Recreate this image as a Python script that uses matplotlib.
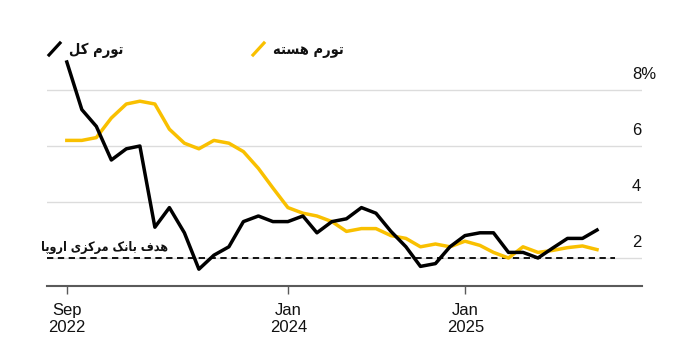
"""
Headline vs core inflation, monthly, with the ECB 2% target.
"""

import pandas as pd
import matplotlib.pyplot as plt
from matplotlib.transforms import blended_transform_factory

# Data, month-end from Sep 2022
dates = pd.date_range('2022-09-30', periods=37, freq='ME')
headline = [9.0, 7.3, 6.7, 5.5, 5.9, 6.0, 3.1, 3.8, 2.9, 1.6, 2.1, 2.4,
            3.3, 3.5, 3.3, 3.3, 3.5, 2.9, 3.3, 3.4, 3.8, 3.6, 2.95, 2.4,
            1.7, 1.8, 2.4, 2.8, 2.9, 2.9, 2.2, 2.2, 2.0, 2.35, 2.7, 2.7, 3.0]
core = [6.2, 6.2, 6.3, 7.0, 7.5, 7.6, 7.5, 6.6, 6.1, 5.9, 6.2, 6.1,
        5.8, 5.2, 4.5, 3.8, 3.6, 3.5, 3.3, 2.95, 3.05, 3.05, 2.8, 2.7,
        2.4, 2.5, 2.4, 2.6, 2.45, 2.2, 2.0, 2.4, 2.2, 2.27, 2.37, 2.43, 2.3]
target = 2.0

y_ticks = [2, 4, 6, 8]
y_labels = ['2', '4', '6', '8%']
x_ticks = [pd.Timestamp('2022-09-30'), pd.Timestamp('2024-01-01'), pd.Timestamp('2025-01-01')]
x_labels = ['Sep\n2022', 'Jan\n2024', 'Jan\n2025']

label_headline = 'تورم کل'
label_core = 'تورم هسته'
label_target = 'هدف بانک مرکزی اروپا'

BLACK = '#000000'
YELLOW = '#F9C000'
GRID = '#DCDCDC'
AXIS = '#5A5A5A'

# Arabic-script shaping: (isolated, final, initial, medial); right-joiners have no initial/medial
FORMS = {
    'ا': ('\uFE8D', '\uFE8E', None, None),
    'ب': ('\uFE8F', '\uFE90', '\uFE91', '\uFE92'),
    'پ': ('\uFB56', '\uFB57', '\uFB58', '\uFB59'),
    'ت': ('\uFE95', '\uFE96', '\uFE97', '\uFE98'),
    'د': ('\uFEA9', '\uFEAA', None, None),
    'ر': ('\uFEAD', '\uFEAE', None, None),
    'ز': ('\uFEAF', '\uFEB0', None, None),
    'س': ('\uFEB1', '\uFEB2', '\uFEB3', '\uFEB4'),
    'ف': ('\uFED1', '\uFED2', '\uFED3', '\uFED4'),
    'ک': ('\uFB8E', '\uFB8F', '\uFB90', '\uFB91'),
    'ل': ('\uFEDD', '\uFEDE', '\uFEDF', '\uFEE0'),
    'م': ('\uFEE1', '\uFEE2', '\uFEE3', '\uFEE4'),
    'ن': ('\uFEE5', '\uFEE6', '\uFEE7', '\uFEE8'),
    'ه': ('\uFEE9', '\uFEEA', '\uFEEB', '\uFEEC'),
    'و': ('\uFEED', '\uFEEE', None, None),
    'ی': ('\uFBFC', '\uFBFD', '\uFBFE', '\uFBFF'),
}


def fa(text):
    """Shape Persian text into presentation forms and reverse for LTR rendering."""
    out = []
    for i, c in enumerate(text):
        if c not in FORMS:
            out.append(c)
            continue
        prev = text[i - 1] if i > 0 else None
        nxt = text[i + 1] if i + 1 < len(text) else None
        join_prev = prev in FORMS and FORMS[prev][2] is not None
        join_next = nxt in FORMS and FORMS[c][2] is not None
        iso, fin, ini, med = FORMS[c]
        if join_prev and join_next:
            out.append(med)
        elif join_prev:
            out.append(fin)
        elif join_next:
            out.append(ini)
        else:
            out.append(iso)
    return ''.join(reversed(out))


plt.rcParams['font.family'] = ['Liberation Sans', 'DejaVu Sans']
FA_FONT = dict(family='DejaVu Sans', fontweight='bold', fontstretch='condensed',
               color='#111111')

fig = plt.figure(figsize=(6.99, 3.49), dpi=100)
ax = fig.add_axes([47 / 699, 1 - 286 / 349, 595 / 699, (286 - 40) / 349])

ax.set_ylim(1, 1 + 246 / 28)
ax.set_xlim(dates[0] - pd.Timedelta(days=41), dates[-1] + pd.Timedelta(days=93))

# gridlines
for v in y_ticks:
    ax.axhline(v, color=GRID, lw=1.0, zorder=1)
ax.axhline(target, xmin=0, xmax=(615 - 47) / 595, color=BLACK, lw=1.3,
           ls=(0, (3.5, 2.5)), zorder=2)

ax.plot(dates, core, color=YELLOW, lw=2.5, zorder=3)
ax.plot(dates, headline, color=BLACK, lw=2.5, zorder=4, clip_on=False)

# y labels sit above their gridlines, at the right
tr = blended_transform_factory(ax.transAxes, ax.transData)
for v, lab in zip(y_ticks, y_labels):
    ax.text((632 - 47) / 595, v + 15.5 / 28, lab, transform=tr, ha='left',
            va='center', fontsize=12, color='#111111')

ax.text(dates[7] - pd.Timedelta(days=2), target + 10.5 / 28, fa(label_target),
        ha='right', va='center', fontsize=9, **FA_FONT)

# axes styling
for side in ['top', 'right', 'left']:
    ax.spines[side].set_visible(False)
ax.spines['bottom'].set_color(AXIS)
ax.spines['bottom'].set_linewidth(1.5)
ax.set_yticks([])
ax.set_xticks(x_ticks)
ax.set_xticklabels(x_labels, fontsize=12, color='#111111', linespacing=1.2)
ax.tick_params(axis='x', length=6, width=1, color=AXIS, pad=6)

# legend: slash marker + label
for x0, col, lab in [(49, BLACK, label_headline), (253, YELLOW, label_core)]:
    fig.add_artist(plt.Line2D([x0 / 699, (x0 + 11) / 699],
                              [1 - 55 / 349, 1 - 43 / 349],
                              color=col, lw=2.3, transform=fig.transFigure))
    fig.text((x0 + 20) / 699, 1 - 50 / 349, fa(lab), ha='left', va='center',
             fontsize=10.5, **FA_FONT)

plt.savefig('out.png', dpi=100)
